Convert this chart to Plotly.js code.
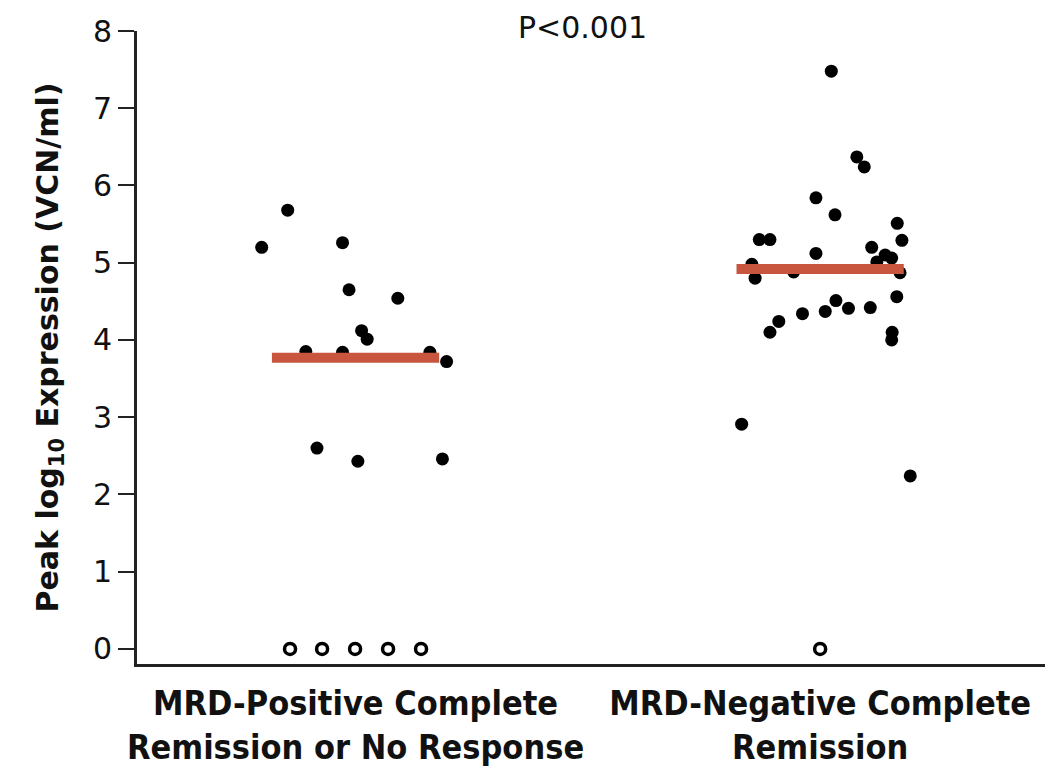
<!DOCTYPE html>
<html>
<head>
<meta charset="utf-8">
<script src="https://cdn.plot.ly/plotly-3.0.1.min.js"></script>
<style>
  html, body { margin: 0; padding: 0; background: #fff; }
  #chart { width: 1063px; height: 771px; }
</style>
</head>
<body>
<div id="chart"></div>
<script>
// Group labels
const categories = [
  'MRD-Positive Complete<br>Remission or No Response',
  'MRD-Negative Complete<br>Remission'
];

// Peak log10 expression per patient, MRD-positive CR or no response
const posValues = [5.68, 5.20, 5.26, 4.65, 4.54, 4.12, 4.01, 3.85, 3.84, 3.84, 3.72, 2.60, 2.43, 2.46];
const posJitter = [-0.146, -0.202, -0.028, -0.014, 0.091, 0.013, 0.025, -0.107, -0.028, 0.160, 0.196, -0.083, 0.005, 0.187];
// Patients with no detectable expression (drawn as open circles)
const posZero = [0, 0, 0, 0, 0];
const posZeroJitter = [-0.141, -0.072, -0.001, 0.070, 0.141];

// Peak log10 expression per patient, MRD-negative CR
const negValues = [7.48, 6.37, 6.24, 5.84, 5.62, 5.51, 5.30, 5.30, 5.29, 5.20, 5.12, 5.10, 5.06, 5.01, 4.98,
                   4.88, 4.87, 4.80, 4.56, 4.51, 4.42, 4.41, 4.37, 4.34, 4.24, 4.10, 4.10, 4.00, 2.91, 2.24];
const negJitter = [0.024, 0.079, 0.095, -0.009, 0.032, 0.166, -0.131, -0.108, 0.176, 0.111, -0.009, 0.140, 0.154, 0.122, -0.147,
                   -0.057, 0.172, -0.140, 0.165, 0.034, 0.108, 0.061, 0.011, -0.038, -0.089, -0.108, 0.155, 0.154, -0.169, 0.194];
const negZero = [0];
const negZeroJitter = [0];

// Median line per group
const medians = [3.77, 4.92];

const pValueText = 'P<0.001';
const yTickVals = [0, 1, 2, 3, 4, 5, 6, 7, 8];

const MEDIAN_HALF_WIDTH = 0.18;
const dotColor = '#000000';
const medianColor = '#c8553d';

function place(center, offsets) { return offsets.map(o => center + o); }

const traces = [
  { x: place(1, posJitter), y: posValues, type: 'scatter', mode: 'markers',
    marker: { color: dotColor, size: 13 }, hoverinfo: 'y' },
  { x: place(1, posZeroJitter), y: posZero, type: 'scatter', mode: 'markers',
    marker: { symbol: 'circle-open', color: dotColor, size: 11, line: { width: 3.5, color: dotColor } }, hoverinfo: 'y' },
  { x: place(2, negJitter), y: negValues, type: 'scatter', mode: 'markers',
    marker: { color: dotColor, size: 13 }, hoverinfo: 'y' },
  { x: place(2, negZeroJitter), y: negZero, type: 'scatter', mode: 'markers',
    marker: { symbol: 'circle-open', color: dotColor, size: 11, line: { width: 3.5, color: dotColor } }, hoverinfo: 'y' }
];

medians.forEach((m, i) => {
  const c = i + 1;
  traces.push({
    x: [c - MEDIAN_HALF_WIDTH, c + MEDIAN_HALF_WIDTH], y: [m, m],
    type: 'scatter', mode: 'lines',
    line: { color: medianColor, width: 10 }, hoverinfo: 'y'
  });
});

const layout = {
  width: 1063, height: 771,
  margin: { l: 137, r: 18, t: 31, b: 107 },
  paper_bgcolor: '#ffffff', plot_bgcolor: '#ffffff',
  showlegend: false,
  font: { family: 'DejaVu Sans, sans-serif', color: '#111111' },
  xaxis: {
    range: [0.5296, 2.484],
    tickvals: [1, 2], ticktext: categories,
    ticks: '', showgrid: false, zeroline: false,
    showline: true, linecolor: '#222222', linewidth: 3,
    tickfont: { family: 'DejaVu Sans Condensed, DejaVu Sans, sans-serif', size: 34, color: '#111111', weight: 'bold' },
    ticklabelstandoff: 7,
    fixedrange: true
  },
  yaxis: {
    range: [-0.195, 8],
    tickvals: yTickVals,
    ticks: 'outside', ticklen: 16, tickwidth: 2, tickcolor: '#222222',
    showgrid: false, zeroline: false,
    showline: true, linecolor: '#222222', linewidth: 3,
    tickfont: { family: 'DejaVu Sans, sans-serif', size: 30, color: '#111111' },
    title: {
      text: '<b>Peak log<sub>10</sub> Expression (VCN/ml)</b>',
      font: { family: 'DejaVu Sans, sans-serif', size: 30, color: '#111111' },
      standoff: 26
    },
    fixedrange: true
  },
  annotations: [{
    text: pValueText, xref: 'paper', yref: 'paper',
    x: 0.491, y: 1.005, xanchor: 'center', yanchor: 'middle',
    showarrow: false,
    font: { family: 'DejaVu Sans, sans-serif', size: 30, color: '#111111' }
  }]
};

Plotly.newPlot('chart', traces, layout, { displayModeBar: false, staticPlot: true });
</script>
</body>
</html>
